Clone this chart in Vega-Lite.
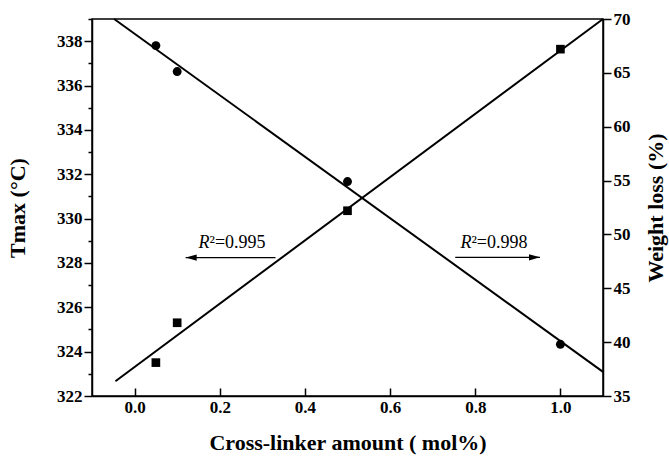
{
  "$schema": "https://vega.github.io/schema/vega-lite/v6.json",
  "width": 511,
  "height": 377,
  "autosize": {"type": "none"},
  "padding": {"left": 92, "top": 19, "right": 66, "bottom": 60},
  "background": "white",
  "config": {
    "font": "Liberation Serif",
    "view": {"stroke": "black", "strokeWidth": 1.5},
    "axis": {
      "grid": false,
      "domainColor": "black",
      "domainWidth": 1.5,
      "tickColor": "black",
      "tickWidth": 1.5,
      "labelColor": "black",
      "labelFont": "Liberation Serif",
      "labelFontSize": 17,
      "labelFontWeight": "bold",
      "titleFont": "Liberation Serif",
      "titleFontSize": 22,
      "titleFontWeight": "bold",
      "titleColor": "black"
    }
  },
  "datasets": {
    "tmaxPts": [
      {"x": 0.05, "y": 337.8},
      {"x": 0.1, "y": 336.63},
      {"x": 0.5, "y": 331.67},
      {"x": 1.0, "y": 324.33}
    ],
    "weightPts": [
      {"x": 0.05, "y": 38.1},
      {"x": 0.1, "y": 41.8},
      {"x": 0.5, "y": 52.2},
      {"x": 1.0, "y": 67.2}
    ],
    "tmaxLine": [
      {"x": -0.048, "y": 339},
      {"x": 1.1, "y": 323.09}
    ],
    "weightLine": [
      {"x": -0.045, "y": 36.37},
      {"x": 1.1, "y": 70}
    ],
    "annoL": [
      {"x": 0.176, "y": 328.67, "a": "R", "b": "²=0.995"}
    ],
    "annoR": [
      {"x": 0.791, "y": 48.74, "a": "R", "b": "²=0.998"}
    ],
    "arrowL": [
      {"x": 0.12, "x2": 0.331, "y": 328.24}
    ],
    "arrowR": [
      {"x": 0.952, "x2": 0.753, "y": 47.87}
    ]
  },
  "encoding": {
    "x": {
      "field": "x",
      "type": "quantitative",
      "scale": {"domain": [-0.1, 1.1], "nice": false, "zero": false},
      "axis": {
        "title": "Cross-linker amount ( mol%)",
        "values": [0, 0.2, 0.4, 0.6, 0.8, 1.0],
        "format": ".1f",
        "tickSize": -8,
        "labelPadding": 11,
        "titlePadding": 17
      }
    }
  },
  "layer": [
    {
      "encoding": {
        "y": {
          "field": "y",
          "type": "quantitative",
          "scale": {"domain": [322, 339], "nice": false, "zero": false},
          "axis": {
            "orient": "left",
            "title": "Tmax (°C)",
            "values": [322, 323, 324, 325, 326, 327, 328, 329, 330, 331, 332, 333, 334, 335, 336, 337, 338, 339],
            "labelExpr": "datum.value % 2 === 0 ? datum.label : ''",
            "tickSize": {"condition": {"test": "datum.value % 2 === 0", "value": 8}, "value": 4},
            "labelPadding": 2,
            "titlePadding": 27
          }
        }
      },
      "layer": [
        {"data": {"name": "tmaxLine"}, "mark": {"type": "line", "color": "black", "strokeWidth": 2}},
        {"data": {"name": "tmaxPts"}, "mark": {"type": "point", "shape": "circle", "filled": true, "color": "black", "opacity": 1, "size": 80}},
        {"data": {"name": "annoL"}, "mark": {"type": "text", "align": "right", "baseline": "alphabetic", "fontStyle": "italic", "fontSize": 18, "color": "black"}, "encoding": {"text": {"field": "a"}}},
        {"data": {"name": "annoL"}, "mark": {"type": "text", "align": "left", "baseline": "alphabetic", "fontSize": 18, "color": "black"}, "encoding": {"text": {"field": "b"}}},
        {"data": {"name": "arrowL"}, "mark": {"type": "rule", "color": "black", "strokeWidth": 1.3}, "encoding": {"x2": {"field": "x2"}}},
        {"data": {"name": "arrowL"}, "mark": {"type": "point", "shape": "M0,0L2,-0.55L2,0.55Z", "filled": true, "color": "black", "opacity": 1, "size": 121}}
      ]
    },
    {
      "encoding": {
        "y": {
          "field": "y",
          "type": "quantitative",
          "scale": {"domain": [35, 70], "nice": false, "zero": false},
          "axis": {
            "orient": "right",
            "title": "Weight loss (%)",
            "titleAngle": 270,
            "titleBaseline": "top",
            "values": [35, 40, 45, 50, 55, 60, 65, 70],
            "tickSize": 8,
            "labelPadding": 2,
            "titlePadding": 15
          }
        }
      },
      "layer": [
        {"data": {"name": "weightLine"}, "mark": {"type": "line", "color": "black", "strokeWidth": 2}},
        {"data": {"name": "weightPts"}, "mark": {"type": "point", "shape": "square", "filled": true, "color": "black", "opacity": 1, "size": 75}},
        {"data": {"name": "annoR"}, "mark": {"type": "text", "align": "right", "baseline": "alphabetic", "fontStyle": "italic", "fontSize": 18, "color": "black"}, "encoding": {"text": {"field": "a"}}},
        {"data": {"name": "annoR"}, "mark": {"type": "text", "align": "left", "baseline": "alphabetic", "fontSize": 18, "color": "black"}, "encoding": {"text": {"field": "b"}}},
        {"data": {"name": "arrowR"}, "mark": {"type": "rule", "color": "black", "strokeWidth": 1.3}, "encoding": {"x2": {"field": "x2"}}},
        {"data": {"name": "arrowR"}, "mark": {"type": "point", "shape": "M0,0L-2,-0.55L-2,0.55Z", "filled": true, "color": "black", "opacity": 1, "size": 121}}
      ]
    }
  ],
  "resolve": {"scale": {"y": "independent"}}
}
